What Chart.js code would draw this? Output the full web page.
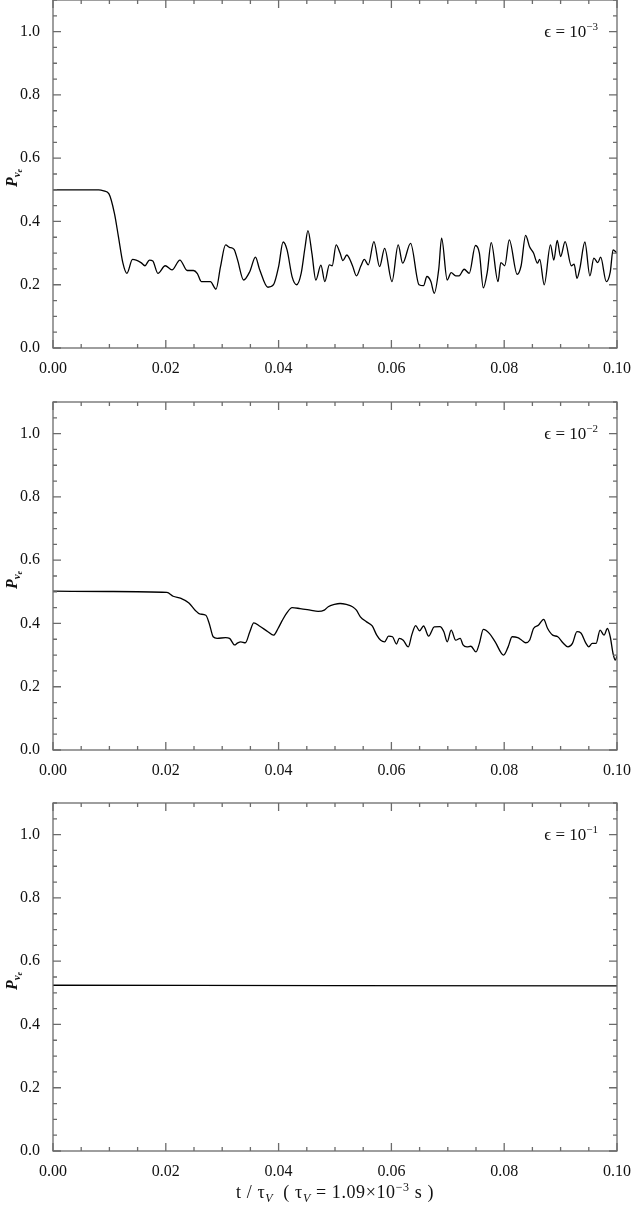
<!DOCTYPE html>
<html>
<head>
<meta charset="utf-8">
<script src="https://cdn.jsdelivr.net/npm/chart.js@4.4.1/dist/chart.umd.min.js"></script>
<style>
    body { margin: 0; background: #fff; }
    #wrap { position: relative; width: 632px; height: 1207px; overflow: hidden; font-family: "Liberation Serif", "DejaVu Serif", serif; color: #111; }
    .panel { position: absolute; left: 0; width: 632px; height: 390px; }
    .eps { position: absolute; right: 34px; font-size: 17px; line-height: 20px; white-space: nowrap; }
    .eps sup { font-size: 11px; vertical-align: 7px; line-height: 0; }
    .ytitle { position: absolute; left: 12px; font-size: 16px; white-space: nowrap; transform: translate(-50%, -50%) rotate(-90deg); }
    .ytitle sub { font-size: 11px; font-weight: bold; font-style: italic; vertical-align: -3px; line-height: 0; }
    .ytitle sub sub { font-size: 8px; vertical-align: -2px; }
    .xtitle { position: absolute; left: 335px; top: 1192px; transform: translate(-50%, -50%); font-size: 18px; letter-spacing: 0.6px; white-space: nowrap; }
    .xtitle sub { font-size: 12px; font-style: italic; vertical-align: -4px; line-height: 0; }
    .xtitle sup { font-size: 12px; vertical-align: 7px; line-height: 0; }
</style>
</head>
<body>
<div id="wrap">
    <div class="panel" style="top:-2px"><canvas id="chart-eps3"></canvas></div>
    <div class="panel" style="top:400px"><canvas id="chart-eps2"></canvas></div>
    <div class="panel" style="top:801px"><canvas id="chart-eps1"></canvas></div>

    <div class="eps" style="top:22px">&#x03F5; = 10<sup>&minus;3</sup></div>
    <div class="eps" style="top:424px">&#x03F5; = 10<sup>&minus;2</sup></div>
    <div class="eps" style="top:825px">&#x03F5; = 10<sup>&minus;1</sup></div>

    <div class="ytitle" style="top:178px"><b><i>P</i></b><sub>&nu;<sub>e</sub></sub></div>
    <div class="ytitle" style="top:580px"><b><i>P</i></b><sub>&nu;<sub>e</sub></sub></div>
    <div class="ytitle" style="top:981px"><b><i>P</i></b><sub>&nu;<sub>e</sub></sub></div>

    <div class="xtitle">t / &tau;<sub>V</sub> &nbsp;( &tau;<sub>V</sub> = 1.09&times;10<sup>&minus;3</sup> s )</div>
</div>

<script>
// axis ticks
const xTickValues = [0, 0.02, 0.04, 0.06, 0.08, 0.10];
const yTickValues = [0, 0.2, 0.4, 0.6, 0.8, 1.0];
const xMinorStep = 0.005;
const yMinorStep = 0.05;

// epsilon = 1e-3
const tEps3 = [0, 0.004, 0.0081, 0.0090, 0.0099, 0.0109, 0.0116, 0.0124, 0.0131, 0.0141, 0.0156, 0.0163, 0.0171, 0.0177, 0.0186, 0.0199, 0.0211, 0.0225, 0.0238, 0.0249, 0.0256, 0.0263, 0.0274, 0.0279, 0.0289, 0.0297, 0.0306, 0.0313, 0.0321, 0.0327, 0.0338, 0.0349, 0.0359, 0.0366, 0.0381, 0.0391, 0.0400, 0.0408, 0.0415, 0.0424, 0.0432, 0.0440, 0.0447, 0.0452, 0.0459, 0.0466, 0.0475, 0.0482, 0.0490, 0.0495, 0.0502, 0.0509, 0.0514, 0.0521, 0.0531, 0.0538, 0.0546, 0.0552, 0.0559, 0.0569, 0.0579, 0.0588, 0.0601, 0.0612, 0.0620, 0.0634, 0.0649, 0.0657, 0.0663, 0.0670, 0.0676, 0.0684, 0.0689, 0.0699, 0.0706, 0.0714, 0.0720, 0.0729, 0.0738, 0.0749, 0.0756, 0.0763, 0.0770, 0.0777, 0.0789, 0.0794, 0.0801, 0.0809, 0.0823, 0.0830, 0.0838, 0.0845, 0.0852, 0.0859, 0.0863, 0.0871, 0.0882, 0.0888, 0.0894, 0.0900, 0.0908, 0.0919, 0.0924, 0.0929, 0.0934, 0.0943, 0.0952, 0.0959, 0.0966, 0.0971, 0.0981, 0.0988, 0.0993, 0.1000];
const pEps3 = [0.5, 0.5, 0.5, 0.497, 0.488, 0.425, 0.352, 0.268, 0.236, 0.28, 0.27, 0.26, 0.278, 0.275, 0.236, 0.26, 0.247, 0.278, 0.245, 0.245, 0.235, 0.21, 0.21, 0.21, 0.186, 0.257, 0.326, 0.318, 0.312, 0.28, 0.215, 0.242, 0.287, 0.25, 0.192, 0.2, 0.257, 0.335, 0.31, 0.225, 0.2, 0.236, 0.32, 0.371, 0.3, 0.215, 0.262, 0.21, 0.263, 0.26, 0.326, 0.3, 0.276, 0.294, 0.26, 0.228, 0.26, 0.28, 0.263, 0.336, 0.257, 0.315, 0.21, 0.326, 0.268, 0.331, 0.2, 0.197, 0.226, 0.21, 0.173, 0.25, 0.347, 0.215, 0.238, 0.228, 0.228, 0.249, 0.236, 0.324, 0.3, 0.19, 0.24, 0.333, 0.21, 0.27, 0.26, 0.342, 0.233, 0.26, 0.356, 0.32, 0.3, 0.268, 0.28, 0.2, 0.326, 0.278, 0.34, 0.289, 0.336, 0.26, 0.265, 0.22, 0.25, 0.335, 0.228, 0.284, 0.27, 0.287, 0.21, 0.24, 0.31, 0.3];

// epsilon = 1e-2
const tEps2 = [0, 0.010, 0.0202, 0.0213, 0.0227, 0.0241, 0.0252, 0.026, 0.0271, 0.0277, 0.0284, 0.0291, 0.0306, 0.0313, 0.0322, 0.0327, 0.0333, 0.0341, 0.0349, 0.0356, 0.0366, 0.0381, 0.0391, 0.0399, 0.0406, 0.0414, 0.0424, 0.0438, 0.0456, 0.047, 0.0481, 0.0488, 0.0499, 0.0509, 0.052, 0.0531, 0.0538, 0.0545, 0.0556, 0.0566, 0.0574, 0.0581, 0.0588, 0.0595, 0.0602, 0.0609, 0.0614, 0.0621, 0.063, 0.0636, 0.0643, 0.065, 0.0657, 0.0666, 0.0676, 0.0686, 0.0693, 0.0699, 0.0706, 0.0714, 0.0722, 0.0727, 0.0734, 0.0741, 0.075, 0.0756, 0.0763, 0.0774, 0.0784, 0.0799, 0.0807, 0.0814, 0.0824, 0.0831, 0.0838, 0.0845, 0.0852, 0.0861, 0.087, 0.0877, 0.0886, 0.0895, 0.0904, 0.0913, 0.0921, 0.0929, 0.0936, 0.0945, 0.095, 0.0956, 0.0963, 0.097, 0.0977, 0.0983, 0.0988, 0.0993, 0.0997, 0.1];
const pEps2 = [0.502, 0.501, 0.498, 0.486, 0.479, 0.465, 0.442, 0.43, 0.426, 0.4, 0.358, 0.353, 0.355, 0.353, 0.332, 0.338, 0.342, 0.339, 0.374, 0.402, 0.392, 0.374, 0.363, 0.384, 0.408, 0.432, 0.45, 0.447, 0.442, 0.438, 0.442, 0.453, 0.46, 0.463, 0.46, 0.453, 0.442, 0.421, 0.405, 0.392, 0.363, 0.347, 0.342, 0.36, 0.358, 0.335, 0.353, 0.347, 0.326, 0.363, 0.393, 0.377, 0.392, 0.36, 0.389, 0.39, 0.374, 0.342, 0.379, 0.347, 0.353, 0.332, 0.326, 0.328, 0.31, 0.337, 0.381, 0.368, 0.342, 0.3, 0.326, 0.358, 0.355, 0.347, 0.339, 0.347, 0.384, 0.395, 0.413, 0.384, 0.363, 0.358, 0.339, 0.326, 0.337, 0.374, 0.37, 0.337, 0.326, 0.337, 0.337, 0.379, 0.363, 0.384, 0.358, 0.305, 0.284, 0.297];

// epsilon = 1e-1
const tEps1 = [0, 0.05, 0.1];
const pEps1 = [0.524, 0.523, 0.522];

const frameColor = "#6b6b6b";
const labelFont = { family: "Liberation Serif", size: 16 };

// box + inward ticks on all four sides
const frameTicks = {
    id: "frameTicks",
    afterDatasetsDraw(chart) {
        const { ctx, chartArea: a, scales } = chart;
        const x = scales.x, y = scales.y;
        ctx.save();
        ctx.strokeStyle = frameColor;
        ctx.lineWidth = 1.3;
        ctx.strokeRect(a.left, a.top, a.right - a.left, a.bottom - a.top);
        ctx.beginPath();
        const nx = Math.round((x.max - x.min) / xMinorStep);
        for (let i = 0; i <= nx; i++) {
            const px = x.getPixelForValue(x.min + i * xMinorStep);
            const len = i % 4 === 0 ? 8 : 4;
            ctx.moveTo(px, a.bottom); ctx.lineTo(px, a.bottom - len);
            ctx.moveTo(px, a.top); ctx.lineTo(px, a.top + len);
        }
        const ny = Math.round((y.max - y.min) / yMinorStep);
        for (let i = 0; i <= ny; i++) {
            const py = y.getPixelForValue(y.min + i * yMinorStep);
            const len = i % 4 === 0 ? 8 : 4;
            ctx.moveTo(a.left, py); ctx.lineTo(a.left + len, py);
            ctx.moveTo(a.right, py); ctx.lineTo(a.right - len, py);
        }
        ctx.stroke();
        ctx.restore();
    }
};

function makePanel(id, tValues, pValues, tension) {
    const ctx = document.getElementById(id);
    return new Chart(ctx, {
        type: "line",
        data: {
            datasets: [{
                data: tValues.map((t, i) => ({ x: t, y: pValues[i] })),
                borderColor: "#000",
                borderWidth: 1.3,
                pointRadius: 0,
                tension: tension,
                cubicInterpolationMode: "monotone",
                fill: false,
            }],
        },
        options: {
            responsive: true,
            maintainAspectRatio: false,
            animation: false,
            layout: { padding: { top: 2, right: 15, left: 0, bottom: 0 } },
            plugins: { legend: { display: false }, tooltip: { enabled: false } },
            scales: {
                x: {
                    type: "linear",
                    min: 0,
                    max: 0.1,
                    grid: { display: false },
                    border: { display: false },
                    afterBuildTicks: (s) => { s.ticks = xTickValues.map((v) => ({ value: v })); },
                    afterFit: (s) => { s.height = 40; s.paddingLeft = 0; s.paddingRight = 0; },
                    ticks: {
                        font: labelFont,
                        color: "#111",
                        padding: 3,
                        maxRotation: 0,
                        callback: (v) => Number(v).toFixed(2),
                    },
                },
                y: {
                    min: 0,
                    max: 1.1,
                    grid: { display: false },
                    border: { display: false },
                    afterBuildTicks: (s) => { s.ticks = yTickValues.map((v) => ({ value: v })); },
                    afterFit: (s) => { s.width = 53; s.paddingTop = 0; s.paddingBottom = 0; },
                    ticks: {
                        font: labelFont,
                        color: "#111",
                        padding: 5,
                        callback: (v) => Number(v).toFixed(1),
                    },
                },
            },
        },
        plugins: [frameTicks],
    });
}

makePanel("chart-eps3", tEps3, pEps3, 0.4);
makePanel("chart-eps2", tEps2, pEps2, 0.2);
makePanel("chart-eps1", tEps1, pEps1, 0);
</script>
</body>
</html>
